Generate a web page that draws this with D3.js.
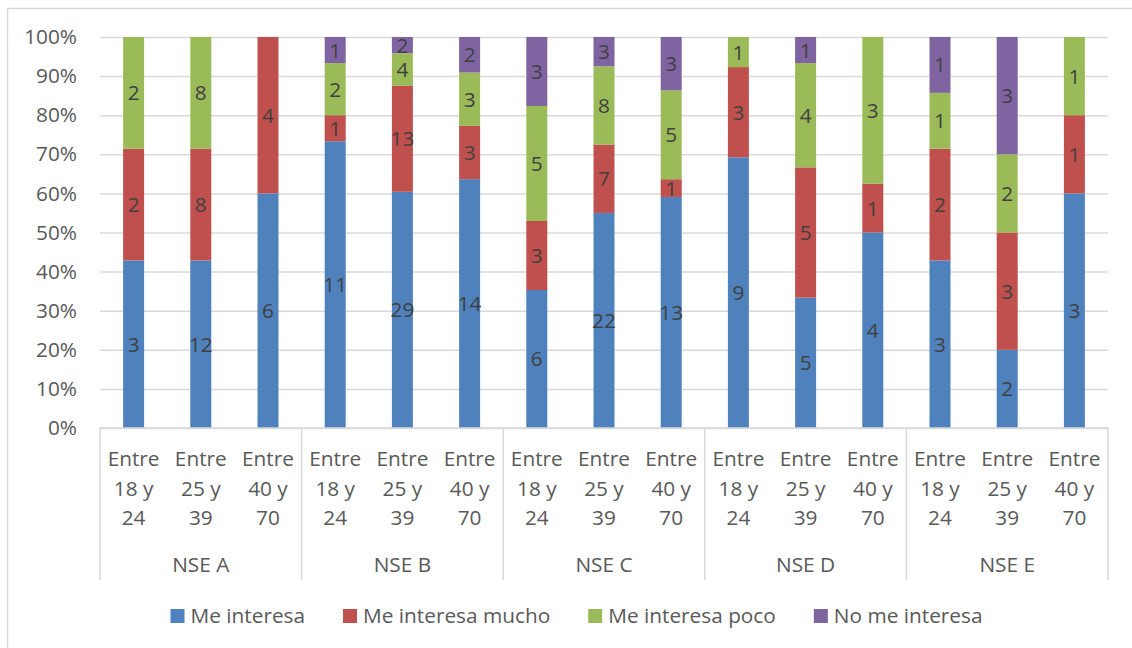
<!DOCTYPE html>
<html>
<head>
<meta charset="utf-8">
<script src="https://cdn.jsdelivr.net/npm/d3@7"></script>
<style>
  html, body { margin: 0; padding: 0; background: #fff; }
  svg { display: block; font-family: "Open Sans", "Noto Sans", sans-serif; }
</style>
</head>
<body>
<svg id="chart" width="1132" height="648"></svg>
<script>
// Interest level by socioeconomic level (NSE) and age range — respondent counts
const groups = ["NSE A", "NSE B", "NSE C", "NSE D", "NSE E"];
const ageRanges = [["Entre", "18 y", "24"], ["Entre", "25 y", "39"], ["Entre", "40 y", "70"]];
const seriesNames = ["Me interesa", "Me interesa mucho", "Me interesa poco", "No me interesa"];
const seriesColors = ["#4F81BD", "#C0504D", "#9BBB59", "#8064A2"];

// one value per bar: A(18-24, 25-39, 40-70), B(...), C(...), D(...), E(...)
const meInteresa      = [3, 12, 6, 11, 29, 14, 6, 22, 13, 9, 5, 4, 3, 2, 3];
const meInteresaMucho = [2, 8, 4, 1, 13, 3, 3, 7, 1, 3, 5, 1, 2, 3, 1];
const meInteresaPoco  = [2, 8, 0, 2, 4, 3, 5, 8, 5, 1, 4, 3, 1, 2, 1];
const noMeInteresa    = [0, 0, 0, 1, 2, 2, 3, 3, 3, 0, 1, 0, 1, 3, 0];

const yTicks = [0, 0.1, 0.2, 0.3, 0.4, 0.5, 0.6, 0.7, 0.8, 0.9, 1];

const seriesValues = [meInteresa, meInteresaMucho, meInteresaPoco, noMeInteresa];

// build rows: one per bar, with shares for the 100% stack
const rows = meInteresa.map((_, i) => {
  const row = { idx: i };
  const total = d3.sum(seriesValues, s => s[i]);
  seriesNames.forEach((name, k) => {
    row[name] = seriesValues[k][i] / total;
    row[name + "_n"] = seriesValues[k][i];
  });
  return row;
});

const svg = d3.select("#chart");
const textColor = "#595959";
const gridColor = "#D9D9D9";
const fontSize = 20.8;

// outer chart frame
svg.append("rect")
  .attr("x", 7.5).attr("y", 8.5)
  .attr("width", 1200).attr("height", 700)
  .attr("fill", "none").attr("stroke", gridColor).attr("stroke-width", 1.5);

const plot = { left: 100, right: 1108, top: 37, bottom: 428 };

const x = d3.scaleBand()
  .domain(rows.map(r => r.idx))
  .range([plot.left, plot.right])
  .paddingInner(0.6875)
  .paddingOuter(0.34375);

const y = d3.scaleLinear().domain([0, 1]).range([plot.bottom, plot.top]);

// gridlines + y axis labels
const yAxis = d3.axisLeft(y)
  .tickValues(yTicks)
  .tickFormat(d3.format(".0%"))
  .tickSize(-(plot.right - plot.left))
  .tickPadding(23);

const gy = svg.append("g")
  .attr("transform", `translate(${plot.left},0)`)
  .call(yAxis);
gy.select(".domain").remove();
gy.selectAll(".tick line").attr("stroke", gridColor).attr("stroke-width", 1.5);
gy.selectAll(".tick text")
  .attr("fill", textColor)
  .attr("font-size", fontSize)
  .attr("font-family", "'Open Sans', 'Noto Sans', sans-serif");

// stacked bars
const stack = d3.stack().keys(seriesNames);
const stacked = stack(rows);

const layers = svg.append("g").selectAll("g")
  .data(stacked)
  .join("g")
  .attr("fill", (d, i) => seriesColors[i]);

layers.selectAll("rect")
  .data(d => d.map(p => ({ p, key: d.key })))
  .join("rect")
  .attr("x", d => x(d.p.data.idx))
  .attr("width", x.bandwidth())
  .attr("y", d => y(d.p[1]))
  .attr("height", d => y(d.p[0]) - y(d.p[1]));

// value labels (counts) centred in each segment
const labels = svg.append("g")
  .attr("font-size", fontSize)
  .attr("fill", "#404040")
  .attr("text-anchor", "middle");

stacked.forEach(layer => {
  layer.forEach(p => {
    const n = p.data[layer.key + "_n"];
    if (!n) return;
    labels.append("text")
      .attr("x", x(p.data.idx) + x.bandwidth() / 2)
      .attr("y", (y(p[0]) + y(p[1])) / 2)
      .attr("dy", "0.36em")
      .text(n);
  });
});

// x axis baseline
svg.append("line")
  .attr("x1", plot.left).attr("x2", plot.right)
  .attr("y1", plot.bottom).attr("y2", plot.bottom)
  .attr("stroke", gridColor).attr("stroke-width", 1.5);

// group separators
const groupStep = (plot.right - plot.left) / groups.length;
d3.range(groups.length + 1).forEach(g => {
  const gx = plot.left + g * groupStep;
  svg.append("line")
    .attr("x1", gx).attr("x2", gx)
    .attr("y1", plot.bottom).attr("y2", 580)
    .attr("stroke", gridColor).attr("stroke-width", 1.5);
});

// category labels (age ranges)
const catG = svg.append("g")
  .attr("font-size", fontSize)
  .attr("fill", textColor)
  .attr("text-anchor", "middle");

rows.forEach(r => {
  const lines = ageRanges[r.idx % ageRanges.length];
  const t = catG.append("text")
    .attr("x", x(r.idx) + x.bandwidth() / 2)
    .attr("y", 466);
  lines.forEach((ln, j) => {
    t.append("tspan")
      .attr("x", x(r.idx) + x.bandwidth() / 2)
      .attr("dy", j === 0 ? 0 : 29.5)
      .text(ln);
  });
});

// group labels
groups.forEach((g, i) => {
  catG.append("text")
    .attr("x", plot.left + (i + 0.5) * groupStep)
    .attr("y", 572)
    .text(g);
});

// legend
const legend = svg.append("g").attr("font-size", fontSize).attr("fill", textColor);
const items = seriesNames.map((name, i) => {
  const g = legend.append("g");
  g.append("rect")
    .attr("x", 0).attr("y", -7)
    .attr("width", 14).attr("height", 14)
    .attr("fill", seriesColors[i]);
  const t = g.append("text")
    .attr("x", 20).attr("y", 0).attr("dy", "0.35em")
    .text(name);
  return { g, w: 20 + t.node().getComputedTextLength() };
});
const gap = 38;
const totalW = d3.sum(items, d => d.w) + gap * (items.length - 1);
let lx = 576.5 - totalW / 2;
items.forEach(it => {
  it.g.attr("transform", `translate(${lx},616)`);
  lx += it.w + gap;
});
</script>
</body>
</html>
